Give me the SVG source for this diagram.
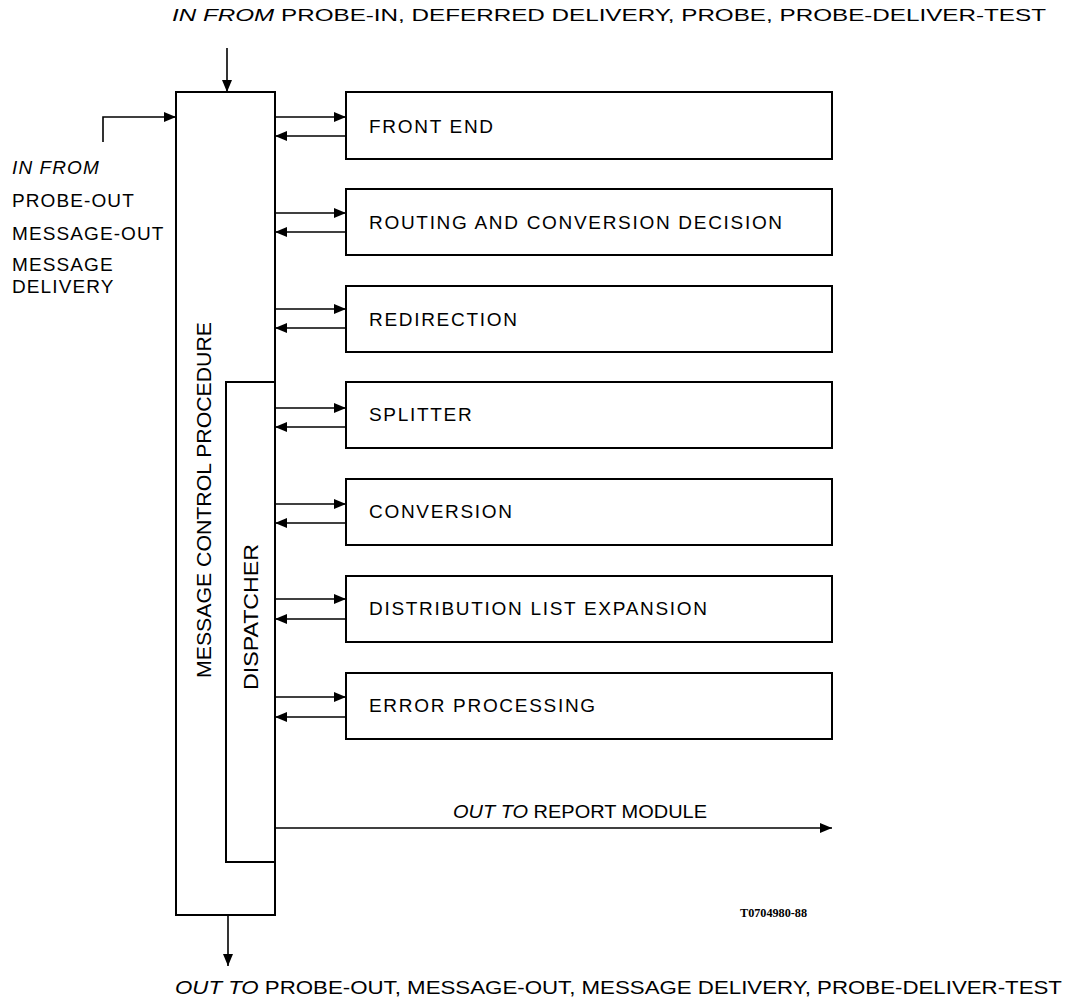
<svg xmlns="http://www.w3.org/2000/svg" width="1070" height="1003" viewBox="0 0 1070 1003">
<style>
.box{fill:none;stroke:#000;stroke-width:2}
.ln{fill:none;stroke:#000;stroke-width:1.6}
text{font-family:"Liberation Sans",Arial,sans-serif;fill:#000}
.lbl{font-size:19px;letter-spacing:1.7px}
.side{font-size:19px;letter-spacing:1.1px}
.it{font-style:italic}
</style>
<defs>
<marker id="ah" viewBox="0 0 12 10" refX="12" refY="5" markerWidth="12" markerHeight="10" markerUnits="userSpaceOnUse" orient="auto">
<path d="M0,0 L12,5 L0,10 Z" fill="#000"/>
</marker>
</defs>
<rect width="1070" height="1003" fill="#fff"/>

<text x="172" y="21" font-size="17" textLength="874" lengthAdjust="spacingAndGlyphs"><tspan class="it">IN FROM</tspan> PROBE-IN, DEFERRED DELIVERY, PROBE, PROBE-DELIVER-TEST</text>

<g id="inputs-left">
<text x="12" y="174" class="side it">IN FROM</text>
<text x="12" y="207" class="side">PROBE-OUT</text>
<text x="12" y="240" class="side">MESSAGE-OUT</text>
<text x="12" y="271" class="side">MESSAGE</text>
<text x="12" y="293" class="side">DELIVERY</text>
</g>

<g id="mcp">
<rect class="box" x="176" y="92" width="99" height="823" stroke-width="2.5"/>
<text font-size="20" transform="translate(211,678) rotate(-90)" textLength="356" lengthAdjust="spacingAndGlyphs">MESSAGE CONTROL PROCEDURE</text>
</g>
<g id="dispatcher">
<path class="box" d="M275,382 H226 V862 H275"/>
<text font-size="20" transform="translate(258,690) rotate(-90)" textLength="146" lengthAdjust="spacingAndGlyphs">DISPATCHER</text>
</g>

<g id="front-end"><rect class="box" x="346" y="92" width="486" height="67"/><text class="lbl" x="369" y="133">FRONT END</text></g>
<g id="routing"><rect class="box" x="346" y="189" width="486" height="66"/><text class="lbl" x="369" y="229">ROUTING AND CONVERSION DECISION</text></g>
<g id="redirection"><rect class="box" x="346" y="286" width="486" height="66"/><text class="lbl" x="369" y="326">REDIRECTION</text></g>
<g id="splitter"><rect class="box" x="346" y="382" width="486" height="66"/><text class="lbl" x="369" y="421">SPLITTER</text></g>
<g id="conversion"><rect class="box" x="346" y="479" width="486" height="66"/><text class="lbl" x="369" y="518">CONVERSION</text></g>
<g id="dle"><rect class="box" x="346" y="576" width="486" height="66"/><text class="lbl" x="369" y="615">DISTRIBUTION LIST EXPANSION</text></g>
<g id="error"><rect class="box" x="346" y="673" width="486" height="66"/><text class="lbl" x="369" y="712">ERROR PROCESSING</text></g>

<g id="connectors">
<path class="ln" d="M227,48 V92" marker-end="url(#ah)"/>
<path class="ln" d="M103,142 V117 H176" marker-end="url(#ah)"/>
<path class="ln" d="M275,117 H346" marker-end="url(#ah)"/>
<path class="ln" d="M346,136 H275" marker-end="url(#ah)"/>
<path class="ln" d="M275,213 H346" marker-end="url(#ah)"/>
<path class="ln" d="M346,232 H275" marker-end="url(#ah)"/>
<path class="ln" d="M275,309 H346" marker-end="url(#ah)"/>
<path class="ln" d="M346,328 H275" marker-end="url(#ah)"/>
<path class="ln" d="M275,408 H346" marker-end="url(#ah)"/>
<path class="ln" d="M346,427 H275" marker-end="url(#ah)"/>
<path class="ln" d="M275,504 H346" marker-end="url(#ah)"/>
<path class="ln" d="M346,523 H275" marker-end="url(#ah)"/>
<path class="ln" d="M275,599 H346" marker-end="url(#ah)"/>
<path class="ln" d="M346,619 H275" marker-end="url(#ah)"/>
<path class="ln" d="M275,697 H346" marker-end="url(#ah)"/>
<path class="ln" d="M346,717 H275" marker-end="url(#ah)"/>
<path class="ln" d="M276,828 H832" marker-end="url(#ah)"/>
<path class="ln" d="M228,915 V966" marker-end="url(#ah)"/>
</g>

<text x="453" y="818" font-size="19" textLength="254" lengthAdjust="spacingAndGlyphs"><tspan class="it">OUT TO</tspan> REPORT MODULE</text>
<text x="740" y="917" style="font-family:'Liberation Serif',serif" font-size="12" font-weight="bold" textLength="67" lengthAdjust="spacingAndGlyphs">T0704980-88</text>
<text x="175" y="994" font-size="18" textLength="887" lengthAdjust="spacingAndGlyphs"><tspan class="it">OUT TO</tspan> PROBE-OUT, MESSAGE-OUT, MESSAGE DELIVERY, PROBE-DELIVER-TEST</text>
</svg>
